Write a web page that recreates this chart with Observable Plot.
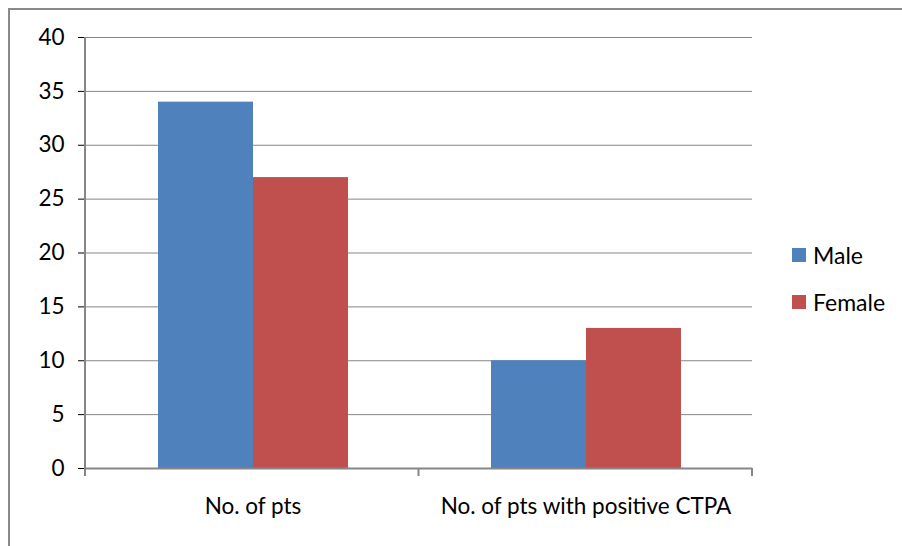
<!DOCTYPE html>
<html>
<head>
<meta charset="utf-8">
<script src="https://cdn.jsdelivr.net/npm/d3@7"></script>
<script src="https://cdn.jsdelivr.net/npm/@observablehq/plot@0.6"></script>
<style>
  html, body { margin: 0; padding: 0; background: #fff; }
  #wrap { position: relative; width: 902px; height: 546px; overflow: hidden; background: #fff; font-family: Lato, "Open Sans", sans-serif; }
  #border { position: absolute; left: 8px; top: 8px; width: 1000px; height: 1000px; border-left: 2px solid #8a8a8a; border-top: 2px solid #8a8a8a; box-sizing: border-box; }
  #chart { position: absolute; left: 0; top: 0; }
  #legend { position: absolute; left: 792px; top: 241px; font-size: 23px; color: #000; }
  .item { display: flex; align-items: center; height: 28px; margin-bottom: 19px; }
  .sw { width: 14px; height: 14px; margin-right: 7px; }
  g[aria-label="y-axis tick"] { stroke: #868686; }
  g[aria-label="y-axis tick label"] { font-size: 22.5px; }
  g[aria-label="fx-axis tick label"] { font-size: 22.5px; }
</style>
</head>
<body>
<div id="wrap"><div id="border"></div><div id="chart"></div><div id="legend"></div></div>
<script>
const categories = ["No. of pts", "No. of pts with positive CTPA"];
const series = ["Male", "Female"];
const male = [34, 10];
const female = [27, 13];
const yTicks = [0, 5, 10, 15, 20, 25, 30, 35, 40];
const colors = ["#4F81BD", "#C0504D"];

const data = categories.flatMap((c, i) => [
  {category: c, sex: "Male", value: male[i]},
  {category: c, sex: "Female", value: female[i]}
]);

const plot = Plot.plot({
  width: 902, height: 546,
  marginLeft: 85, marginRight: 150, marginTop: 37, marginBottom: 78,
  style: {fontFamily: "Lato, 'Open Sans', sans-serif", fontSize: "21px", color: "#000", background: "transparent"},
  fx: {domain: categories, paddingInner: 0, paddingOuter: 0, label: null, axis: "bottom", tickSize: 0, tickPadding: 30},
  x: {domain: series, paddingInner: 0, paddingOuter: 0.75, axis: null},
  y: {domain: [0, 40], ticks: yTicks, tickSize: 8, tickPadding: 14, label: null},
  color: {domain: series, range: colors},
  marks: [
    Plot.ruleY(yTicks.filter(d => d > 0), {stroke: "#868686", strokeWidth: 1}),
    Plot.barY(data, {fx: "category", x: "sex", y: "value", fill: "sex"}),
    Plot.ruleY([0], {stroke: "#868686", strokeWidth: 2})
  ]
});

// y-axis line and category boundary ticks, from the plot's own scales
const ys = plot.scale("y"), fxs = plot.scale("fx");
const y = d3.scaleLinear().domain(ys.domain).range(ys.range);
const fx = d3.scaleBand().domain(fxs.domain).range(fxs.range).padding(0);
const svg = d3.select(plot);
const g = svg.append("g").attr("stroke", "#868686").attr("stroke-width", 2);
g.append("line").attr("x1", fx.range()[0]).attr("x2", fx.range()[0]).attr("y1", y(40)).attr("y2", y(0));
const edges = fx.domain().map(d => fx(d)).concat([fx.range()[1]]);
g.selectAll("line.t").data(edges).join("line").attr("class", "t")
  .attr("x1", d => d).attr("x2", d => d).attr("y1", y(0)).attr("y2", y(0) + 8);

document.getElementById("chart").appendChild(plot);

const legend = document.getElementById("legend");
series.forEach((s, i) => {
  const it = document.createElement("div");
  it.className = "item";
  it.innerHTML = `<div class="sw" style="background:${colors[i]}"></div><span>${s}</span>`;
  legend.appendChild(it);
});
</script>
</body>
</html>
